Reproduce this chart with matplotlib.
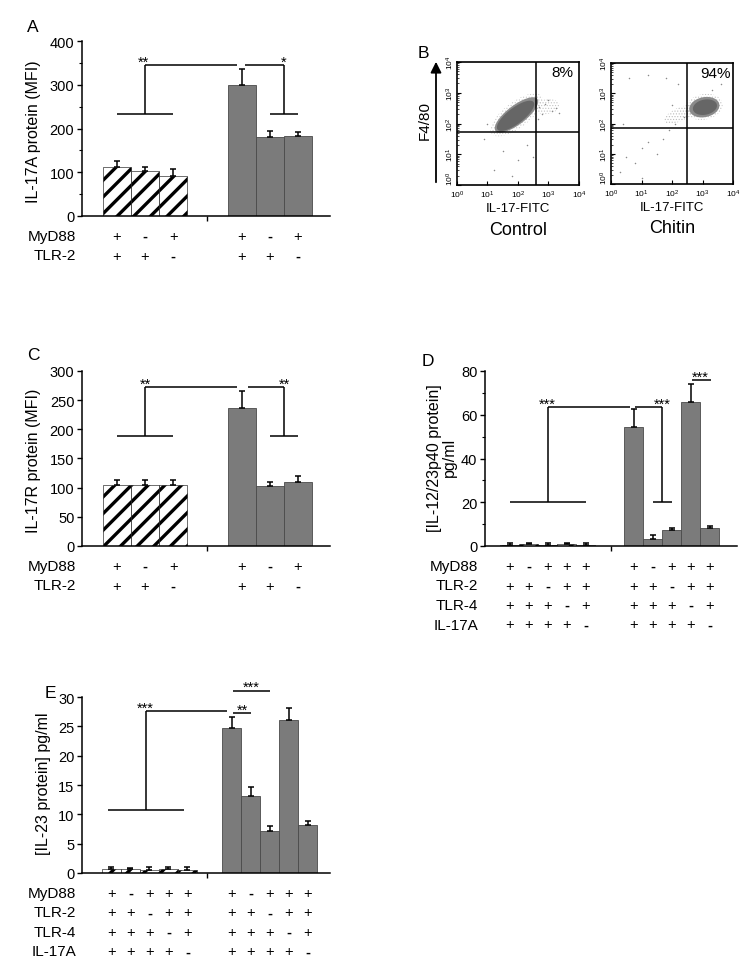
import matplotlib
matplotlib.use('Agg')
import matplotlib.pyplot as plt
import numpy as np
from matplotlib.ticker import MultipleLocator, LogLocator, NullFormatter
from matplotlib.transforms import offset_copy

plt.rcParams['font.family'] = ['Liberation Sans', 'DejaVu Sans']
plt.rcParams['hatch.linewidth'] = 2.4

# panel A - IL-17A protein (MFI)
a_ctrl = [111, 104, 91]
a_ctrl_err = [14, 9, 16]
a_chit = [299, 181, 184]
a_chit_err = [37, 13, 9]

# panel C - IL-17R protein (MFI)
c_ctrl = [104, 104, 104]
c_ctrl_err = [10, 10, 10]
c_chit = [237, 103, 109]
c_chit_err = [28, 7, 11]

# panel D - IL-12/23p40 pg/ml
d_ctrl = [0.6, 0.7, 0.6, 0.8, 0.5]
d_ctrl_err = [0.7, 0.6, 0.8, 0.8, 0.7]
d_chit = [54.6, 3.2, 7.3, 66.0, 8.4]
d_chit_err = [8.2, 1.7, 1.1, 8.2, 0.9]

# panel E - IL-23 pg/ml
e_ctrl = [0.7, 0.6, 0.5, 0.6, 0.5]
e_ctrl_err = [0.3, 0.3, 0.5, 0.4, 0.5]
e_chit = [24.7, 13.1, 7.2, 26.0, 8.1]
e_chit_err = [1.9, 1.5, 0.8, 2.1, 0.7]

# genotype rows under the bars
ac_myd88 = ['+', '-', '+']
ac_tlr2 = ['+', '+', '-']
de_myd88 = ['+', '-', '+', '+', '+']
de_tlr2 = ['+', '+', '-', '+', '+']
de_tlr4 = ['+', '+', '+', '-', '+']
de_il17a = ['+', '+', '+', '+', '-']

# significance levels (bracket heights)
a_sig = (345, 234)
c_sig = (273, 188)
d_sig = (63.7, 20.3, 75.7)
e_sig = (27.6, 10.8, 27.3, 31.1)

# panel B - flow cytometry (log10 units): cloud layers cx, cy, a, b, angle, shade, stippled
ctrl_cloud = [(1.95, 2.28, 1.02, 0.42, 37, '#cccccc', True),
              (2.95, 2.55, 0.42, 0.24, 8, '#c4c4c4', True),
              (1.95, 2.28, 0.86, 0.31, 37, '#8c8c8c', False),
              (1.92, 2.25, 0.74, 0.26, 37, '#666666', False)]
ctrl_dots_x = [2.7, 2.9, 3.1, 3.0, 2.8, 3.25, 2.65, 1.5, 2.0, 1.2, 2.3, 1.8, 2.5, 0.9, 3.35, 1.0]
ctrl_dots_y = [2.55, 2.65, 2.4, 2.75, 2.3, 2.5, 2.15, 1.1, 0.8, 0.5, 1.3, 0.3, 0.9, 1.5, 2.35, 2.0]
ctrl_quad = (2.59, 1.72)
chit_cloud = [(2.25, 2.3, 0.55, 0.22, 25, '#bcbcbc', True),
              (3.05, 2.55, 0.62, 0.42, 12, '#c4c4c4', True),
              (3.06, 2.54, 0.50, 0.33, 12, '#8a8a8a', False),
              (3.08, 2.54, 0.40, 0.25, 12, '#666666', False)]
chit_dots_x = [0.3, 0.5, 0.8, 1.0, 1.2, 1.5, 1.7, 1.9, 2.1, 2.4, 0.6, 1.2, 1.8, 2.2, 0.4, 1.0, 2.0, 3.6, 3.3]
chit_dots_y = [0.4, 0.9, 0.7, 1.2, 1.4, 1.0, 1.5, 1.8, 2.0, 2.2, 3.5, 3.6, 3.5, 3.3, 2.0, 0.2, 2.6, 3.3, 3.1]
chit_quad = (2.49, 1.85)

W, H = 750, 970
fig = plt.figure(figsize=(7.5, 9.7), dpi=100)


def add_ax(l, r, t, b):
    return fig.add_axes([l / W, 1 - b / H, (r - l) / W, (b - t) / H])


def bar_panel(ax, xc, ctrl, ctrl_err, xg, chit, chit_err, ylim, major, minor, sep, xlim):
    ax.bar(xc, ctrl, width=1, color='white', edgecolor='black', hatch='//', linewidth=0.4)
    ax.bar(xg, chit, width=1, color='#7b7b7b', edgecolor='#4a4a4a', linewidth=0.6)
    for x, v, e in [(xc, ctrl, ctrl_err), (xg, chit, chit_err)]:
        ax.errorbar(x, v, yerr=[np.zeros(len(v)), e], fmt='none', ecolor='black',
                    elinewidth=1.1, capsize=2, capthick=1.1)
    ax.set_xlim(*xlim)
    ax.set_ylim(*ylim)
    ax.yaxis.set_major_locator(MultipleLocator(major))
    if minor:
        ax.yaxis.set_minor_locator(MultipleLocator(minor))
    ax.set_xticks([sep])
    ax.set_xticklabels([''])
    for s in ['top', 'right']:
        ax.spines[s].set_visible(False)
    for s in ['left', 'bottom']:
        ax.spines[s].set_linewidth(1.1)
    ax.tick_params(axis='both', which='major', direction='out', length=3.5, width=1, labelsize=10.5, pad=2)
    ax.tick_params(axis='y', which='minor', direction='out', length=2, width=0.8)


def add_rows(ax, names, rows, xs, label_dx=-6):
    for i, (name, row) in enumerate(zip(names, rows)):
        dy = 20 + 19.5 * i
        tr = offset_copy(ax.get_xaxis_transform(), fig=fig, y=-dy, units='dots')
        trl = offset_copy(ax.transAxes, fig=fig, x=label_dx, y=-dy, units='dots')
        ax.text(0, 0, name, transform=trl, ha='right', va='center', fontsize=11)
        for x, s in zip(xs, row + row):
            ax.text(x, 0, s, transform=tr, ha='center', va='center', fontsize=10.5,
                    fontweight='bold' if s == '-' else 'normal')


def seg(ax, xs, ys):
    ax.plot(xs, ys, color='black', lw=1.1, clip_on=False, solid_capstyle='butt')


def stars(ax, x, y, s):
    ax.text(x, y, s, ha='center', va='bottom', fontsize=10.5, clip_on=False)


# ---------- panel A ----------
ax = add_ax(82, 330, 42, 217)
xc = np.arange(3)
xg = 4.46 + np.arange(3)
bar_panel(ax, xc, a_ctrl, a_ctrl_err, xg, a_chit, a_chit_err, (0, 400), 100, 50, 3.2, (-1.25, 7.6))
ax.set_ylabel('IL-17A protein (MFI)', fontsize=11.5)
ax.yaxis.set_label_coords(-0.165, 0.49)
top, bot = a_sig
seg(ax, [xc[1], xg[0] - 0.17], [top, top])
seg(ax, [xg[0] + 0.11, (xg[1] + xg[2]) / 2], [top, top])
seg(ax, [xc[1], xc[1]], [top, bot])
seg(ax, [xc[0], xc[2]], [bot, bot])
seg(ax, [(xg[1] + xg[2]) / 2] * 2, [top, bot])
seg(ax, [xg[1], xg[2]], [bot, bot])
stars(ax, xc[1] - 0.05, top - 9, '**')
stars(ax, (xg[1] + xg[2]) / 2, top - 9, '*')
add_rows(ax, ['MyD88', 'TLR-2'], [ac_myd88, ac_tlr2], list(xc) + list(xg))
fig.text(33 / W, 1 - 28 / H, 'A', fontsize=12.5, ha='center', va='center')

# ---------- panel C ----------
ax = add_ax(82, 330, 372, 547)
bar_panel(ax, xc, c_ctrl, c_ctrl_err, xg, c_chit, c_chit_err, (0, 300), 50, None, 3.2, (-1.25, 7.6))
ax.set_ylabel('IL-17R protein (MFI)', fontsize=11.5)
ax.yaxis.set_label_coords(-0.165, 0.49)
top, bot = c_sig
seg(ax, [xc[1], xg[0] - 0.17], [top, top])
seg(ax, [xg[0] + 0.22, (xg[1] + xg[2]) / 2], [top, top])
seg(ax, [xc[1], xc[1]], [top, bot])
seg(ax, [xc[0], xc[2]], [bot, bot])
seg(ax, [(xg[1] + xg[2]) / 2] * 2, [top, bot])
seg(ax, [xg[1], xg[2]], [bot, bot])
stars(ax, xc[1] + 0.03, top - 7, '**')
stars(ax, (xg[1] + xg[2]) / 2, top - 7, '**')
add_rows(ax, ['MyD88', 'TLR-2'], [ac_myd88, ac_tlr2], list(xc) + list(xg))
fig.text(33 / W, 1 - 355 / H, 'C', fontsize=12.5, ha='center', va='center')

# ---------- panel D ----------
ax = add_ax(485, 737, 372, 547)
xc5 = np.arange(5)
xg5 = 6.53 + np.arange(5)
bar_panel(ax, xc5, d_ctrl, d_ctrl_err, xg5, d_chit, d_chit_err, (0, 80), 20, 10, 5.34, (-1.29, 11.97))
ax.set_ylabel('[IL-12/23p40 protein]\npg/ml', fontsize=11.5, linespacing=1.0)
ax.yaxis.set_label_coords(-0.11, 0.51)
top, bot, hi = d_sig
mid = (xg5[1] + xg5[2]) / 2
seg(ax, [xc5[2], xg5[0] - 0.19], [top, top])
seg(ax, [xg5[0] + 0.07, mid], [top, top])
seg(ax, [xc5[2], xc5[2]], [top, bot])
seg(ax, [xc5[0], xc5[4]], [bot, bot])
seg(ax, [mid, mid], [top, bot])
seg(ax, [xg5[1], xg5[2]], [bot, bot])
seg(ax, [xg5[3] + 0.06, xg5[4] + 0.06], [hi, hi])
stars(ax, xc5[2], top - 1.8, '***')
stars(ax, mid, top - 1.8, '***')
stars(ax, (xg5[3] + xg5[4]) / 2, hi - 1.6, '***')
add_rows(ax, ['MyD88', 'TLR-2', 'TLR-4', 'IL-17A'],
         [de_myd88, de_tlr2, de_tlr4, de_il17a], list(xc5) + list(xg5), label_dx=-7)
fig.text(428 / W, 1 - 362 / H, 'D', fontsize=12.5, ha='center', va='center')

# ---------- panel E ----------
ax = add_ax(82, 330, 698, 874)
xg5e = 6.32 + np.arange(5)
bar_panel(ax, xc5, e_ctrl, e_ctrl_err, xg5e, e_chit, e_chit_err, (0, 30), 5, None, 5.03, (-1.55, 11.5))
ax.set_ylabel('[IL-23 protein] pg/ml', fontsize=11.5)
ax.yaxis.set_label_coords(-0.125, 0.51)
top, bot, lo2, hi2 = e_sig
seg(ax, [1.8, xg5e[0] - 0.22], [top, top])
seg(ax, [1.8, 1.8], [top, bot])
seg(ax, [xc5[0] - 0.2, xc5[4] - 0.2], [bot, bot])
seg(ax, [xg5e[0] + 0.1, xg5e[1]], [lo2, lo2])
seg(ax, [xg5e[0] + 0.1, xg5e[2]], [hi2, hi2])
stars(ax, 1.8, top - 0.6, '***')
stars(ax, (xg5e[0] + xg5e[1]) / 2 + 0.05, lo2 - 0.6, '**')
stars(ax, (xg5e[0] + xg5e[2]) / 2 + 0.05, hi2 - 0.6, '***')
add_rows(ax, ['MyD88', 'TLR-2', 'TLR-4', 'IL-17A'],
         [de_myd88, de_tlr2, de_tlr4, de_il17a], list(xc5) + list(xg5e))
fig.text(50 / W, 1 - 693 / H, 'E', fontsize=12.5, ha='center', va='center')


# ---------- panel B ----------
def flow_panel(ax, layers, dx, dy, quad, pct, title):
    ax.set_xscale('log')
    ax.set_yscale('log')
    t = np.linspace(0, 2 * np.pi, 160)
    for cx, cy, a, b, ang, shade, stipple in layers:
        th = np.deg2rad(ang)
        lx = cx + a * np.cos(t) * np.cos(th) - b * np.sin(t) * np.sin(th)
        ly = cy + a * np.cos(t) * np.sin(th) + b * np.sin(t) * np.cos(th)
        if stipple:
            with plt.rc_context({'hatch.linewidth': 0.5}):
                ax.fill(10 ** lx, 10 ** ly, facecolor='none', edgecolor=shade, hatch='......', lw=0)
        else:
            ax.fill(10 ** lx, 10 ** ly, color=shade, lw=0)
    ax.scatter(10 ** np.array(dx), 10 ** np.array(dy), s=1.2, c='#8a8a8a', lw=0)
    ax.axvline(10 ** quad[0], color='black', lw=1.1)
    ax.axhline(10 ** quad[1], color='black', lw=1.1)
    ax.set_xlim(1, 1e4)
    ax.set_ylim(1, 1e4)
    ax.set_xticks([1, 10, 100, 1000, 10000])
    ax.set_yticks([1, 10, 100, 1000, 10000])
    ax.xaxis.set_minor_locator(LogLocator(base=10, subs=np.arange(2, 10)))
    ax.yaxis.set_minor_locator(LogLocator(base=10, subs=np.arange(2, 10)))
    ax.xaxis.set_minor_formatter(NullFormatter())
    ax.yaxis.set_minor_formatter(NullFormatter())
    ax.tick_params(which='major', direction='in', length=3, width=0.8, labelsize=6)
    ax.tick_params(axis='x', pad=3)
    ax.tick_params(which='minor', direction='in', length=1.5, width=0.5)
    ax.tick_params(axis='y', labelrotation=90, pad=1)
    ylabs = ax.get_yticklabels()
    for lab in ylabs:
        lab.set_va('center')
    ylabs[0].set_va('bottom')
    for s in ax.spines.values():
        s.set_linewidth(1.2)
    ax.text(0.86, 0.92, pct, transform=ax.transAxes, ha='center', va='center', fontsize=11)
    ax.set_xlabel('IL-17-FITC', fontsize=9.5, labelpad=1)
    ax.text(0.5, -0.36, title, transform=ax.transAxes, ha='center', va='center', fontsize=13)


axb1 = add_ax(457, 579, 63, 186)
flow_panel(axb1, ctrl_cloud, ctrl_dots_x, ctrl_dots_y, ctrl_quad, '8%', 'Control')
axb2 = add_ax(611, 733, 64, 185)
flow_panel(axb2, chit_cloud, chit_dots_x, chit_dots_y, chit_quad, '94%', 'Chitin')

fig.text(423 / W, 1 - 53 / H, 'B', fontsize=12.5, ha='center', va='center')
ax_arrow = fig.add_axes([0, 0, 1, 1], facecolor='none')
ax_arrow.set_axis_off()
ax_arrow.annotate('', xy=(436 / W, 1 - 60 / H), xytext=(436 / W, 1 - 186 / H),
                  xycoords='axes fraction',
                  arrowprops=dict(arrowstyle='-|>', lw=1.3, color='black', mutation_scale=16))
fig.text(425 / W, 1 - 120 / H, 'F4/80', fontsize=11, rotation=90, ha='center', va='center')

fig.savefig('out.png', dpi=100, facecolor='white')
